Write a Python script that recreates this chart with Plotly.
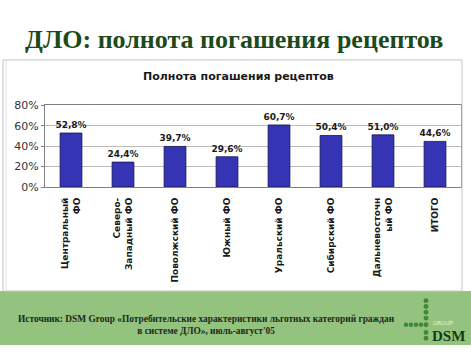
import plotly.graph_objects as go

categories = ["Центральный<br>ФО", "Северо-<br>Западный ФО", "Поволжский ФО", "Южный ФО",
              "Уральский ФО", "Сибирский ФО", "Дальневосточн<br>ый ФО", "ИТОГО"]
values = [52.8, 24.4, 39.7, 29.6, 60.7, 50.4, 51.0, 44.6]
value_labels = ["52,8%", "24,4%", "39,7%", "29,6%", "60,7%", "50,4%", "51,0%", "44,6%"]
y_ticks = [0, 20, 40, 60, 80]
y_tick_labels = ["0%", "20%", "40%", "60%", "80%"]

W, H = 471, 352
def fx(x): return x / W
def fy(y): return 1 - y / H

fig = go.Figure()
fig.add_trace(go.Bar(
    x=categories, y=values, text=value_labels, textposition="outside",
    constraintext="none",
    textfont=dict(family="DejaVu Sans", size=9, color="#1a1a1a", weight="bold"),
    marker=dict(color="#3434b4", line=dict(color="#15154f", width=0.8)),
    cliponaxis=False, hoverinfo="skip",
))

shapes = [
    # green footer band
    dict(type="rect", xref="paper", yref="paper", x0=0, x1=1, y0=0, y1=fy(296),
         fillcolor="#94c37f", line=dict(width=0), layer="below"),
    # chart frame
    dict(type="rect", xref="paper", yref="paper", x0=fx(3), x1=fx(462), y0=fy(296), y1=fy(56),
         fillcolor="rgba(0,0,0,0)", line=dict(color="#c4c4c4", width=1)),
    dict(type="line", xref="paper", yref="paper", x0=fx(6), x1=fx(6), y0=fy(296), y1=fy(56),
         line=dict(color="#e0e0e0", width=1)),
]
# DSM logo dots
dot_col = "#3f8a3a"
def dot(cx, cy, r=2.3):
    return dict(type="circle", xref="paper", yref="paper",
                x0=fx(cx - r), x1=fx(cx + r), y0=fy(cy + r), y1=fy(cy - r),
                fillcolor=dot_col, line=dict(width=0))
for cx in [406, 411, 416, 421]:
    shapes.append(dot(cx, 331))
for cy in [306, 312, 318, 324, 331, 339, 345]:
    shapes.append(dot(426, cy, 2.5))

annotations = [
    dict(text="<b>ДЛО: полнота погашения рецептов</b>", xref="paper", yref="paper",
         x=fx(234), y=fy(35), xanchor="center", yanchor="middle", showarrow=False,
         font=dict(family="Liberation Serif", size=26, color="#1d4a1d")),
    dict(text="<b>Полнота погашения рецептов</b>", xref="paper", yref="paper",
         x=fx(238), y=fy(73), xanchor="center", yanchor="middle", showarrow=False,
         font=dict(family="DejaVu Sans", size=11, color="#1a1a1a")),
    dict(text="<b>Источник: DSM Group «Потребительские характеристики льготных категорий граждан<br>"
              "в системе ДЛО», июль-август'05</b>", xref="paper", yref="paper",
         x=fx(206), y=fy(331), xanchor="center", yanchor="middle", showarrow=False,
         align="center",
         font=dict(family="Liberation Serif", size=9.4, color="#1a2a1a")),
    dict(text="GROUP", xref="paper", yref="paper",
         x=fx(431), y=fy(329), xanchor="left", yanchor="middle", showarrow=False,
         font=dict(family="DejaVu Sans", size=5.5, color="#e8f3e0")),
    dict(text="<b>DSM</b>", xref="paper", yref="paper",
         x=fx(430), y=fy(343), xanchor="left", yanchor="middle", showarrow=False,
         font=dict(family="Liberation Serif", size=15, color="#163a16")),
]

fig.update_layout(
    width=W, height=H, margin=dict(l=0, r=0, t=0, b=0),
    paper_bgcolor="white", plot_bgcolor="white",
    showlegend=False, bargap=0.58,
    shapes=shapes, annotations=annotations,
    xaxis=dict(domain=[fx(45), fx(461)], tickangle=-90, showgrid=False,
               showline=True, linecolor="#808080", linewidth=1, mirror=True,
               ticks="", ticklabelstandoff=6,
               tickfont=dict(family="DejaVu Sans", size=9, color="#1a1a1a", weight="bold")),
    yaxis=dict(domain=[fy(188), fy(103)], range=[0, 80], tickvals=y_ticks, ticktext=y_tick_labels,
               showgrid=True, gridcolor="#bcbcbc", gridwidth=1,
               showline=True, linecolor="#808080", linewidth=1, mirror=True,
               ticks="outside", ticklen=3, tickcolor="#808080", zeroline=False,
               tickfont=dict(family="DejaVu Sans", size=11, color="#333333")),
)

fig.write_html("out.html")
